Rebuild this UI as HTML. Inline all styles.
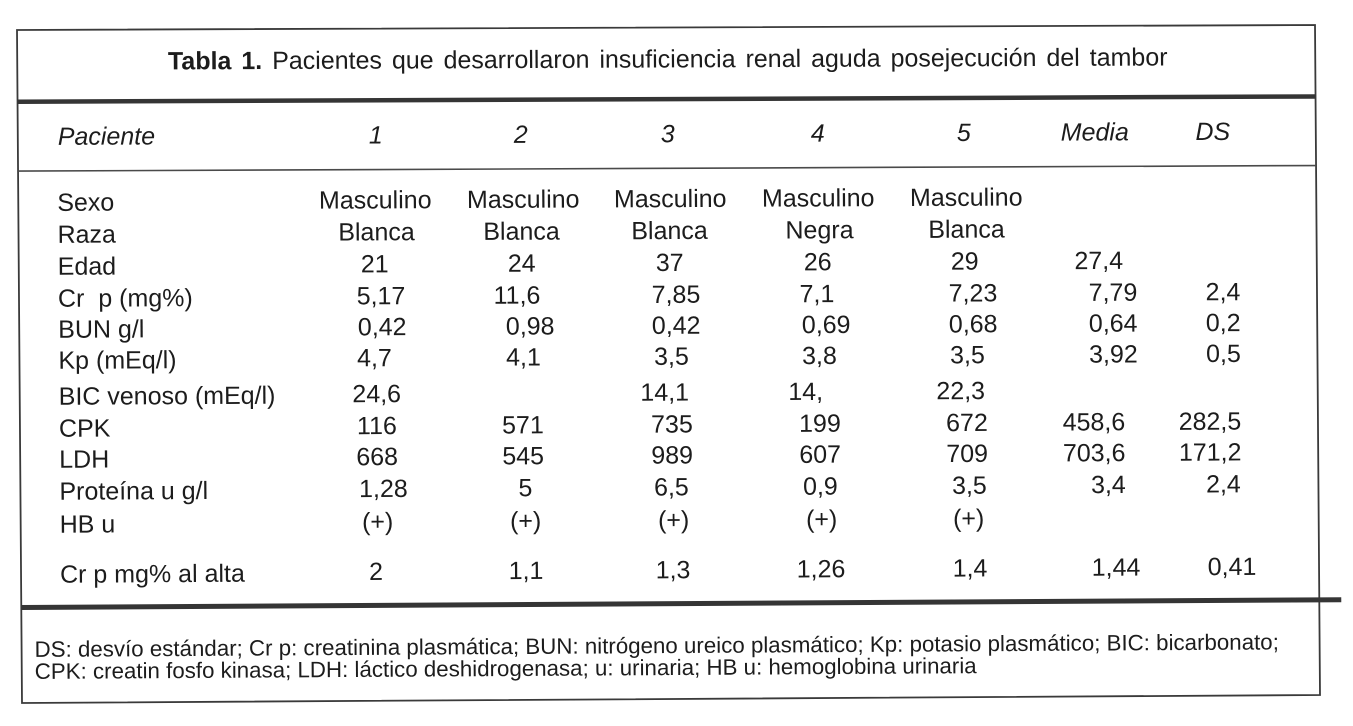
<!DOCTYPE html>
<html><head><meta charset="utf-8"><style>
html,body{margin:0;padding:0;background:#fff;}
svg{display:block;}
text{font-family:"Liberation Sans",Arial,sans-serif;fill:#1c1c1c;white-space:pre;}
.b{font-size:25px;}
.h{font-size:25px;font-style:italic;}
.f{font-size:22.3px;}
</style></head><body>
<svg width="1353" height="726" viewBox="0 0 1353 726" xmlns="http://www.w3.org/2000/svg">
<rect width="1353" height="726" fill="#fff"/>
<!-- outer box -->
<path d="M17 30 L1315 25 L1320 695 L22 703 Z" fill="none" stroke="#3a3a3a" stroke-width="1.8"/>
<!-- thick line top -->
<g transform="matrix(1 -0.00406 0.0074 1 -0.222 0.069)">
<rect x="17" y="99.5" width="1298" height="4.5" fill="#353535"/>
</g>
<!-- thin line -->
<g transform="matrix(1 -0.0043 0.0074 1 -0.222 0.073)">
<rect x="17" y="170.3" width="1298" height="1.6" fill="#4a4a4a"/>
</g>
<!-- bottom thick line -->
<g transform="matrix(1 -0.00586 0.0074 1 -0.222 0.1)">
<rect x="17" y="605" width="1320" height="5" fill="#353535"/>
</g>

<!-- title -->
<g transform="matrix(1 -0.00394 0.0074 1 -0.222 0.067)">
<text class="b" x="667.5" y="70" text-anchor="middle" style="word-spacing:3px"><tspan font-weight="bold">Tabla 1.</tspan> Pacientes que desarrollaron insuficiencia renal aguda posejecución del tambor</text>
</g>

<!-- header -->
<g transform="matrix(1 -0.00421 0.0074 1 -0.222 0.072)">
<text class="h" x="57" y="145">Paciente</text>
<text class="h" x="375" y="145" text-anchor="middle">1</text>
<text class="h" x="520" y="145" text-anchor="middle">2</text>
<text class="h" x="667" y="145" text-anchor="middle">3</text>
<text class="h" x="817" y="145" text-anchor="middle">4</text>
<text class="h" x="963" y="145" text-anchor="middle">5</text>
<text class="h" x="1094" y="145" text-anchor="middle">Media</text>
<text class="h" x="1212" y="145" text-anchor="middle">DS</text>
</g>

<!-- Sexo -->
<g transform="matrix(1 -0.00445 0.0074 1 -0.222 0.076)">
<text class="b" x="56" y="211">Sexo</text>
<text class="b" x="374" y="210" text-anchor="middle">Masculino</text>
<text class="b" x="522" y="210" text-anchor="middle">Masculino</text>
<text class="b" x="669" y="210" text-anchor="middle">Masculino</text>
<text class="b" x="817" y="210" text-anchor="middle">Masculino</text>
<text class="b" x="965" y="210" text-anchor="middle">Masculino</text>
</g>
<!-- Raza -->
<g transform="matrix(1 -0.00456 0.0074 1 -0.222 0.078)">
<text class="b" x="56" y="243">Raza</text>
<text class="b" x="375" y="242" text-anchor="middle">Blanca</text>
<text class="b" x="520" y="242" text-anchor="middle">Blanca</text>
<text class="b" x="668" y="242" text-anchor="middle">Blanca</text>
<text class="b" x="818" y="242" text-anchor="middle">Negra</text>
<text class="b" x="965" y="242" text-anchor="middle">Blanca</text>
</g>
<!-- Edad -->
<g transform="matrix(1 -0.00467 0.0074 1 -0.222 0.079)">
<text class="b" x="56" y="275">Edad</text>
<text class="b" x="373" y="274" text-anchor="middle">21</text>
<text class="b" x="520" y="274" text-anchor="middle">24</text>
<text class="b" x="668" y="274" text-anchor="middle">37</text>
<text class="b" x="816" y="274" text-anchor="middle">26</text>
<text class="b" x="963" y="274" text-anchor="middle">29</text>
<text class="b" x="1097" y="274" text-anchor="middle">27,4</text>
</g>
<!-- Cr p -->
<g transform="matrix(1 -0.00479 0.0074 1 -0.222 0.081)">
<text class="b" x="56" y="307">Cr  p (mg%)</text>
<text class="b" x="379" y="306" text-anchor="middle">5,17</text>
<text class="b" x="515" y="306" text-anchor="middle">11,6</text>
<text class="b" x="674" y="306" text-anchor="middle">7,85</text>
<text class="b" x="815" y="306" text-anchor="middle">7,1</text>
<text class="b" x="971" y="306" text-anchor="middle">7,23</text>
<text class="b" x="1111" y="306" text-anchor="middle">7,79</text>
<text class="b" x="1221" y="306" text-anchor="middle">2,4</text>
</g>
<!-- BUN -->
<g transform="matrix(1 -0.0049 0.0074 1 -0.222 0.083)">
<text class="b" x="56" y="338">BUN g/l</text>
<text class="b" x="380" y="337" text-anchor="middle">0,42</text>
<text class="b" x="528" y="337" text-anchor="middle">0,98</text>
<text class="b" x="674" y="337" text-anchor="middle">0,42</text>
<text class="b" x="824" y="337" text-anchor="middle">0,69</text>
<text class="b" x="971" y="337" text-anchor="middle">0,68</text>
<text class="b" x="1111" y="337" text-anchor="middle">0,64</text>
<text class="b" x="1221" y="337" text-anchor="middle">0,2</text>
</g>
<!-- Kp -->
<g transform="matrix(1 -0.00501 0.0074 1 -0.222 0.085)">
<text class="b" x="56" y="369">Kp (mEq/l)</text>
<text class="b" x="372" y="368" text-anchor="middle">4,7</text>
<text class="b" x="521" y="368" text-anchor="middle">4,1</text>
<text class="b" x="669" y="368" text-anchor="middle">3,5</text>
<text class="b" x="817" y="368" text-anchor="middle">3,8</text>
<text class="b" x="965" y="368" text-anchor="middle">3,5</text>
<text class="b" x="1111" y="368" text-anchor="middle">3,92</text>
<text class="b" x="1221" y="368" text-anchor="middle">0,5</text>
</g>
<!-- BIC -->
<g transform="matrix(1 -0.00514 0.0074 1 -0.222 0.087)">
<text class="b" x="56" y="405">BIC venoso (mEq/l)</text>
<text class="b" x="374" y="404" text-anchor="middle">24,6</text>
<text class="b" x="662" y="404" text-anchor="middle">14,1</text>
<text class="b" x="803" y="404" text-anchor="middle">14,</text>
<text class="b" x="958" y="404" text-anchor="middle">22,3</text>
</g>
<!-- CPK -->
<g transform="matrix(1 -0.00525 0.0074 1 -0.222 0.089)">
<text class="b" x="56" y="437">CPK</text>
<text class="b" x="374" y="436" text-anchor="middle">116</text>
<text class="b" x="520" y="436" text-anchor="middle">571</text>
<text class="b" x="669" y="436" text-anchor="middle">735</text>
<text class="b" x="817" y="436" text-anchor="middle">199</text>
<text class="b" x="964" y="436" text-anchor="middle">672</text>
<text class="b" x="1091" y="436" text-anchor="middle">458,6</text>
<text class="b" x="1207" y="436" text-anchor="middle">282,5</text>
</g>
<!-- LDH -->
<g transform="matrix(1 -0.00536 0.0074 1 -0.222 0.091)">
<text class="b" x="56" y="468">LDH</text>
<text class="b" x="374" y="467" text-anchor="middle">668</text>
<text class="b" x="520" y="467" text-anchor="middle">545</text>
<text class="b" x="669" y="467" text-anchor="middle">989</text>
<text class="b" x="817" y="467" text-anchor="middle">607</text>
<text class="b" x="964" y="467" text-anchor="middle">709</text>
<text class="b" x="1091" y="467" text-anchor="middle">703,6</text>
<text class="b" x="1207" y="467" text-anchor="middle">171,2</text>
</g>
<!-- Proteina -->
<g transform="matrix(1 -0.00548 0.0074 1 -0.222 0.093)">
<text class="b" x="56" y="500">Proteína u g/l</text>
<text class="b" x="380" y="499" text-anchor="middle">1,28</text>
<text class="b" x="522" y="499" text-anchor="middle">5</text>
<text class="b" x="668" y="499" text-anchor="middle">6,5</text>
<text class="b" x="817" y="499" text-anchor="middle">0,9</text>
<text class="b" x="966" y="499" text-anchor="middle">3,5</text>
<text class="b" x="1105" y="499" text-anchor="middle">3,4</text>
<text class="b" x="1220" y="499" text-anchor="middle">2,4</text>
</g>
<!-- HB u -->
<g transform="matrix(1 -0.00559 0.0074 1 -0.222 0.095)">
<text class="b" x="56" y="533">HB u</text>
<text class="b" x="374" y="532" text-anchor="middle">(+)</text>
<text class="b" x="522" y="532" text-anchor="middle">(+)</text>
<text class="b" x="670" y="532" text-anchor="middle">(+)</text>
<text class="b" x="818" y="532" text-anchor="middle">(+)</text>
<text class="b" x="965" y="532" text-anchor="middle">(+)</text>
</g>
<!-- Cr p al alta -->
<g transform="matrix(1 -0.00577 0.0074 1 -0.222 0.098)">
<text class="b" x="56" y="583">Cr p mg% al alta</text>
<text class="b" x="372" y="582" text-anchor="middle">2</text>
<text class="b" x="522" y="582" text-anchor="middle">1,1</text>
<text class="b" x="669" y="582" text-anchor="middle">1,3</text>
<text class="b" x="817" y="582" text-anchor="middle">1,26</text>
<text class="b" x="966" y="582" text-anchor="middle">1,4</text>
<text class="b" x="1112" y="582" text-anchor="middle">1,44</text>
<text class="b" x="1228" y="582" text-anchor="middle">0,41</text>
</g>

<!-- footnote -->
<g transform="matrix(1 -0.00602 0.0074 1 -0.222 0.102)">
<text class="f" x="30" y="657">DS: desvío estándar; Cr p: creatinina plasmática; BUN: nitrógeno ureico plasmático; Kp: potasio plasmático; BIC: bicarbonato;</text>
</g>
<g transform="matrix(1 -0.00611 0.0074 1 -0.222 0.104)">
<text class="f" x="30" y="679">CPK: creatin fosfo kinasa; LDH: láctico deshidrogenasa; u: urinaria; HB u: hemoglobina urinaria</text>
</g>
</svg>
</body></html>
